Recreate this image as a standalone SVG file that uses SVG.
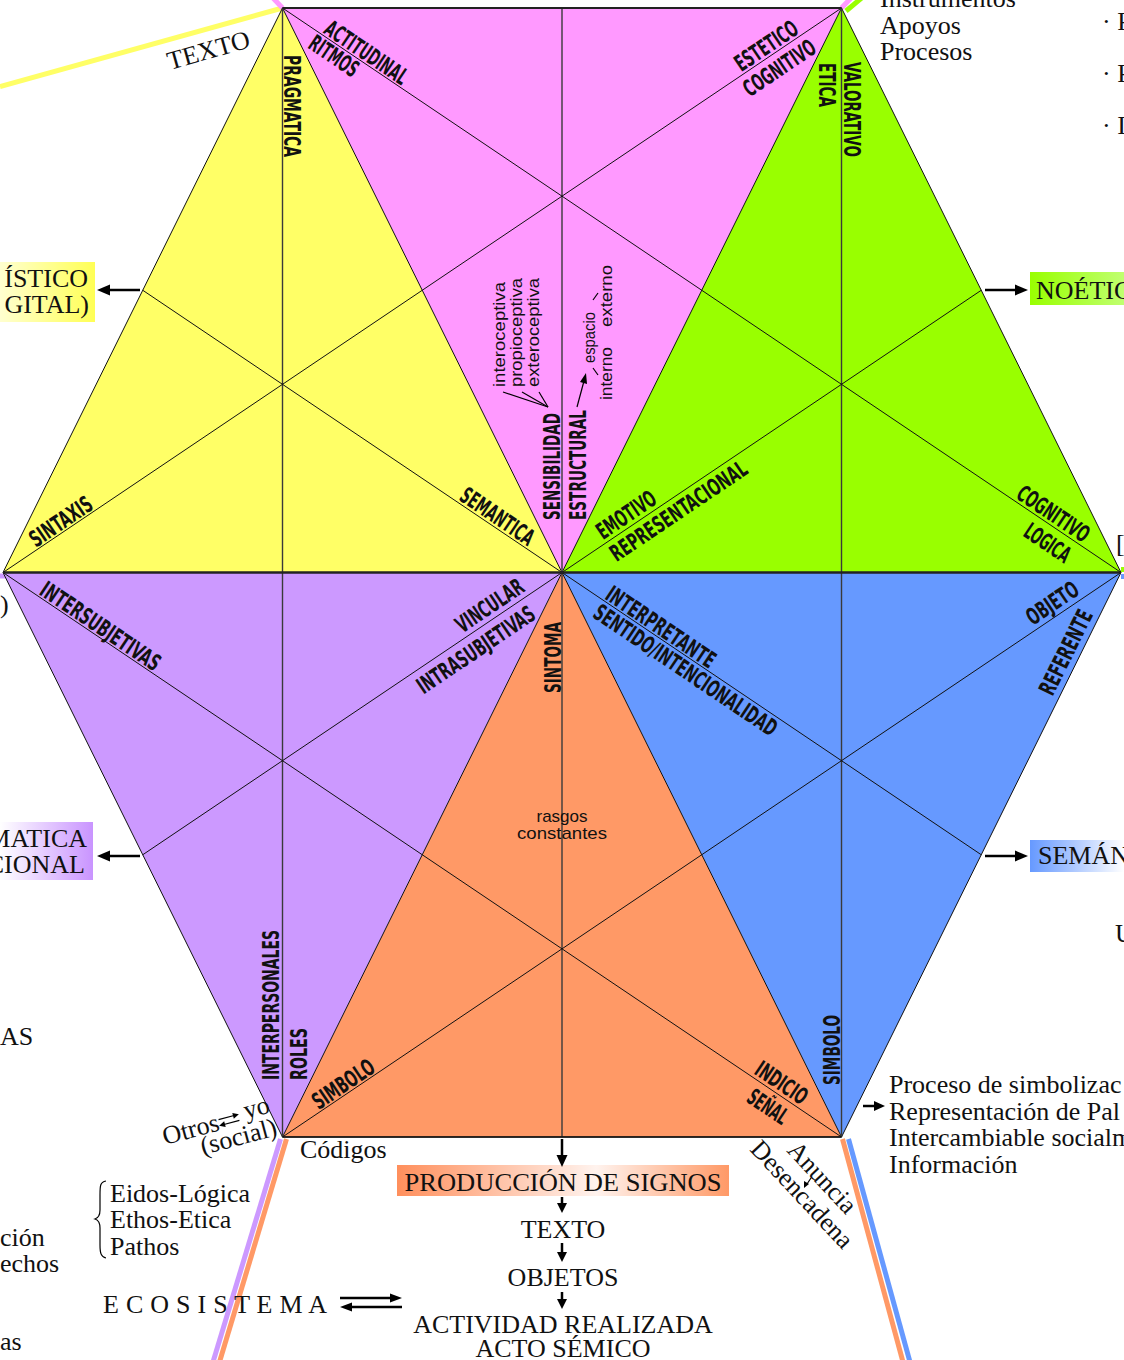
<svg xmlns="http://www.w3.org/2000/svg" width="1124" height="1360" viewBox="0 0 1124 1360">
<defs>
<style>
.lb{font-family:"DejaVu Sans Condensed","DejaVu Sans",sans-serif;font-weight:bold;font-size:23px;fill:#111}
.sr{font-family:"Liberation Serif","Times New Roman",serif;font-size:26px;fill:#111}
.ss{font-family:"Liberation Sans",Arial,sans-serif;font-size:17px;fill:#111}
.gl{stroke:#111;stroke-width:1;fill:none}
.vl{stroke:#3a3a3a;stroke-width:1.4;fill:none}
.ar{stroke:#000;stroke-width:2.5;fill:none}
.ah{fill:#000}
.thin{stroke:#000;stroke-width:1.2;fill:none}
</style>
<linearGradient id="gy" x1="0" y1="0" x2="1" y2="0"><stop offset="0" stop-color="#ffffd0"/><stop offset="1" stop-color="#ffff55"/></linearGradient>
<linearGradient id="gp" x1="0" y1="0" x2="1" y2="0"><stop offset="0" stop-color="#ffffff"/><stop offset="1" stop-color="#c994ff"/></linearGradient>
<linearGradient id="gg" x1="0" y1="0" x2="1" y2="0"><stop offset="0" stop-color="#99ff00"/><stop offset="1" stop-color="#c0ff70"/></linearGradient>
<linearGradient id="gb" x1="0" y1="0" x2="1" y2="0"><stop offset="0" stop-color="#6699ff"/><stop offset="1" stop-color="#ffffff"/></linearGradient>
<linearGradient id="go" x1="0" y1="0" x2="1" y2="0"><stop offset="0" stop-color="#ff8f5c"/><stop offset="0.6" stop-color="#fff3ee"/><stop offset="1" stop-color="#ff9966"/></linearGradient>
</defs>

<g id="stripes" stroke-width="5" fill="none">
<line x1="282.5" y1="8" x2="0" y2="86.5" stroke="#ffff66"/>
<line x1="282.5" y1="8" x2="273" y2="-2" stroke="#ff99ff"/>
<line x1="841.5" y1="8" x2="851" y2="-2" stroke="#ff99ff"/>
<line x1="846" y1="11" x2="864" y2="-4" stroke="#99ff00"/>
<line x1="280.5" y1="1139" x2="213" y2="1362" stroke="#cc99ff"/>
<line x1="286.5" y1="1139" x2="219.5" y2="1362" stroke="#ff9966"/>
<line x1="842.5" y1="1139" x2="903" y2="1362" stroke="#ff9966"/>
<line x1="848.5" y1="1139" x2="910" y2="1362" stroke="#6699ff"/>
<line x1="1121" y1="569.5" x2="1124" y2="569.5" stroke="#99ff00"/>
<line x1="1121" y1="576.5" x2="1124" y2="576.5" stroke="#6699ff"/>
<line x1="0" y1="576" x2="7" y2="576" stroke="#cc99ff"/>
</g>

<g id="tri-yellow"><polygon points="282.5,8 3,572.5 562,572.5" fill="#ffff66"/></g>
<g id="tri-pink"><polygon points="282.5,8 841.5,8 562,572.5" fill="#ff99ff"/></g>
<g id="tri-green"><polygon points="841.5,8 1121,572.5 562,572.5" fill="#99ff00"/></g>
<g id="tri-blue"><polygon points="562,572.5 1121,572.5 841.5,1137" fill="#6699ff"/></g>
<g id="tri-orange"><polygon points="562,572.5 841.5,1137 282.5,1137" fill="#ff9966"/></g>
<g id="tri-purple"><polygon points="3,572.5 562,572.5 282.5,1137" fill="#cc99ff"/></g>

<g id="grid">
<polygon class="gl" points="282.5,8 841.5,8 1121,572.5 841.5,1137 282.5,1137 3,572.5"/>
<line class="gl" x1="282.5" y1="8" x2="562" y2="572.5"/>
<line class="gl" x1="841.5" y1="8" x2="562" y2="572.5"/>
<line class="gl" x1="282.5" y1="1137" x2="562" y2="572.5"/>
<line class="gl" x1="841.5" y1="1137" x2="562" y2="572.5"/>
<line class="vl" x1="282.5" y1="8" x2="282.5" y2="1137"/>
<line class="vl" x1="562" y1="8" x2="562" y2="1137"/>
<line class="vl" x1="841.5" y1="8" x2="841.5" y2="1137"/>
<line class="gl" x1="3" y1="572.5" x2="841.5" y2="8"/>
<line class="gl" x1="282.5" y1="8" x2="1121" y2="572.5"/>
<line class="gl" x1="3" y1="572.5" x2="841.5" y2="1137"/>
<line class="gl" x1="282.5" y1="1137" x2="1121" y2="572.5"/>
<line class="gl" x1="142.75" y1="290.25" x2="981.25" y2="854.75"/>
<line class="gl" x1="981.25" y1="290.25" x2="142.75" y2="854.75"/>
<line x1="282.5" y1="8" x2="841.5" y2="8" stroke="#222" stroke-width="2"/>
<line x1="3" y1="572.5" x2="1121" y2="572.5" stroke="#222" stroke-width="2.5"/>
<line x1="282.5" y1="1137" x2="841.5" y2="1137" stroke="#111" stroke-width="1.5"/>
</g>

<g id="labels-yellow">
<text class="lb" transform="translate(284,55) rotate(90)" textLength="102" lengthAdjust="spacingAndGlyphs">PRAGMATICA</text>
<text class="lb" transform="translate(3,572.5) rotate(-33.96)" x="41" y="-2" textLength="71" lengthAdjust="spacingAndGlyphs">SINTAXIS</text>
<text class="lb" transform="translate(562,572.5) rotate(33.96)" x="-127" y="-2.5" textLength="84" lengthAdjust="spacingAndGlyphs">SEMANTICA</text>
</g>
<g id="labels-pink">
<text class="lb" transform="translate(282.5,8) rotate(33.96)" x="47" y="-2" textLength="95" lengthAdjust="spacingAndGlyphs">ACTITUDINAL</text>
<text class="lb" transform="translate(282.5,8) rotate(33.96)" x="42" y="19" textLength="55" lengthAdjust="spacingAndGlyphs">RITMOS</text>
<text class="lb" transform="translate(841.5,8) rotate(-33.96)" x="-119" y="-2.7" textLength="71" lengthAdjust="spacingAndGlyphs">ESTETICO</text>
<text class="lb" transform="translate(841.5,8) rotate(-33.96)" x="-126" y="23" textLength="82" lengthAdjust="spacingAndGlyphs">COGNITIVO</text>
<text class="lb" transform="translate(560,520) rotate(-90)" textLength="107" lengthAdjust="spacingAndGlyphs">SENSIBILIDAD</text>
<text class="lb" transform="translate(585.5,520) rotate(-90)" textLength="110" lengthAdjust="spacingAndGlyphs">ESTRUCTURAL</text>
<text class="ss" transform="translate(505,387) rotate(-90)" textLength="105" lengthAdjust="spacingAndGlyphs">interoceptiva</text>
<text class="ss" transform="translate(522,387) rotate(-90)" textLength="109" lengthAdjust="spacingAndGlyphs">propioceptiva</text>
<text class="ss" transform="translate(539,387) rotate(-90)" textLength="109" lengthAdjust="spacingAndGlyphs">exteroceptiva</text>
<text class="ss" transform="translate(595,363) rotate(-90)" textLength="51" lengthAdjust="spacingAndGlyphs">espacio</text>
<text class="ss" transform="translate(612,400) rotate(-90)" textLength="53" lengthAdjust="spacingAndGlyphs">interno</text>
<text class="ss" transform="translate(612,327) rotate(-90)" textLength="62" lengthAdjust="spacingAndGlyphs">externo</text>
<line class="thin" x1="503" y1="392" x2="548" y2="407"/>
<line class="thin" x1="522" y1="392" x2="548" y2="407"/>
<line class="thin" x1="539" y1="392" x2="548" y2="407"/>
<line class="thin" x1="593" y1="300" x2="598" y2="293"/>
<line class="thin" x1="593" y1="368" x2="598" y2="375"/>
<line class="thin" x1="577" y1="407" x2="584" y2="381"/>
<polygon class="ah" points="586,373 580,382 587,384"/>
</g>
<g id="labels-green">
<text class="lb" transform="translate(818.5,63) rotate(90)" textLength="44" lengthAdjust="spacingAndGlyphs">ETICA</text>
<text class="lb" transform="translate(844,62) rotate(90)" textLength="95" lengthAdjust="spacingAndGlyphs">VALORATIVO</text>
<text class="lb" transform="translate(562,572.5) rotate(-33.96)" x="52" y="-4" textLength="67" lengthAdjust="spacingAndGlyphs">EMOTIVO</text>
<text class="lb" transform="translate(562,572.5) rotate(-33.96)" x="51" y="22" textLength="160" lengthAdjust="spacingAndGlyphs">REPRESENTACIONAL</text>
<text class="lb" transform="translate(1121,572.5) rotate(33.96)" x="-130" y="-3" textLength="82" lengthAdjust="spacingAndGlyphs">COGNITIVO</text>
<text class="lb" transform="translate(1121,572.5) rotate(33.96)" x="-103" y="24.5" textLength="51" lengthAdjust="spacingAndGlyphs">LOGICA</text>
</g>
<g id="labels-blue">
<text class="lb" transform="translate(562,572.5) rotate(33.96)" x="49" y="-2" textLength="127" lengthAdjust="spacingAndGlyphs">INTERPRETANTE</text>
<text class="lb" transform="translate(562,572.5) rotate(33.96)" x="49" y="20" textLength="216" lengthAdjust="spacingAndGlyphs">SENTIDO/INTENCIONALIDAD</text>
<text class="lb" transform="translate(1121,572.5) rotate(-33.96)" x="-103" y="-5" textLength="58" lengthAdjust="spacingAndGlyphs">OBJETO</text>
<text class="lb" transform="translate(1121,572.5) rotate(-63.66)" x="-142" y="-6" textLength="92" lengthAdjust="spacingAndGlyphs">REFERENTE</text>
<text class="lb" transform="translate(840,1085) rotate(-90)" textLength="70" lengthAdjust="spacingAndGlyphs">SIMBOLO</text>
</g>
<g id="labels-orange">
<text class="lb" transform="translate(561,693) rotate(-90)" textLength="71" lengthAdjust="spacingAndGlyphs">SINTOMA</text>
<text class="lb" transform="translate(282.5,1137) rotate(-33.96)" x="45" y="-2" textLength="70" lengthAdjust="spacingAndGlyphs">SIMBOLO</text>
<text class="lb" transform="translate(841.5,1137) rotate(33.96)" x="-109" y="-3.5" textLength="58" lengthAdjust="spacingAndGlyphs">INDICIO</text>
<text class="lb" transform="translate(841.5,1137) rotate(33.96)" x="-100" y="24" textLength="44" lengthAdjust="spacingAndGlyphs">SEÑAL</text>
<text class="ss" x="562" y="822" text-anchor="middle">rasgos</text>
<text class="ss" x="562" y="839" text-anchor="middle" textLength="90" lengthAdjust="spacingAndGlyphs">constantes</text>
</g>
<g id="labels-purple">
<text class="lb" transform="translate(3,572.5) rotate(33.96)" x="41" y="-2" textLength="140" lengthAdjust="spacingAndGlyphs">INTERSUBJETIVAS</text>
<text class="lb" transform="translate(562,572.5) rotate(-33.96)" x="-117" y="-5" textLength="77" lengthAdjust="spacingAndGlyphs">VINCULAR</text>
<text class="lb" transform="translate(562,572.5) rotate(-33.96)" x="-183" y="24" textLength="137" lengthAdjust="spacingAndGlyphs">INTRASUBJETIVAS</text>
<text class="lb" transform="translate(279,1080) rotate(-90)" textLength="150" lengthAdjust="spacingAndGlyphs">INTERPERSONALES</text>
<text class="lb" transform="translate(307,1080) rotate(-90)" textLength="52" lengthAdjust="spacingAndGlyphs">ROLES</text>
</g>

<g id="box-linguistico">
<rect x="0" y="262" width="95" height="60" fill="url(#gy)"/>
<text class="sr" x="88" y="287" text-anchor="end" font-size="27">ÍSTICO</text>
<text class="sr" x="89" y="313" text-anchor="end" font-size="27">GITAL)</text>
</g>
<g id="box-pragmatica">
<rect x="0" y="822" width="93" height="58" fill="url(#gp)"/>
<text class="sr" x="87" y="847" text-anchor="end" font-size="27">MATICA</text>
<text class="sr" x="85" y="873" text-anchor="end" font-size="27">CIONAL</text>
</g>
<g id="box-noetico">
<rect x="1030" y="272" width="94" height="33" fill="url(#gg)"/>
<text class="sr" x="1036" y="299">NOÉTIC</text>
</g>
<g id="box-semantica">
<rect x="1030" y="840" width="94" height="32" fill="url(#gb)"/>
<text class="sr" x="1038" y="864">SEMÁN</text>
</g>
<g id="box-produccion">
<rect x="397" y="1165" width="332" height="31" fill="url(#go)"/>
<text class="sr" x="563" y="1191" text-anchor="middle" textLength="317" lengthAdjust="spacingAndGlyphs">PRODUCCIÓN DE SIGNOS</text>
</g>

<g id="connectors">
<line class="ar" x1="140" y1="290" x2="108" y2="290"/><polygon class="ah" points="97,290 110,284.5 110,295.5"/>
<line class="ar" x1="140" y1="856" x2="108" y2="856"/><polygon class="ah" points="97,856 110,850.5 110,861.5"/>
<line class="ar" x1="985" y1="290" x2="1017" y2="290"/><polygon class="ah" points="1028,290 1015,284.5 1015,295.5"/>
<line class="ar" x1="985" y1="856" x2="1017" y2="856"/><polygon class="ah" points="1028,856 1015,850.5 1015,861.5"/>
<line class="ar" x1="863" y1="1106" x2="876" y2="1106"/><polygon class="ah" points="885,1106 874,1101 874,1111"/>
<line class="ar" x1="562" y1="1139" x2="562" y2="1157"/><polygon class="ah" points="562,1167 556.5,1155 567.5,1155"/>
<line class="ar" x1="562" y1="1197" x2="562" y2="1205"/><polygon class="ah" points="562,1213 557,1203 567,1203"/>
<line class="ar" x1="562" y1="1243" x2="562" y2="1254"/><polygon class="ah" points="562,1262 557,1252 567,1252"/>
<line class="ar" x1="562" y1="1292" x2="562" y2="1300"/><polygon class="ah" points="562,1309 557,1299 567,1299"/>
<line class="ar" x1="340" y1="1298" x2="392" y2="1298"/><polygon class="ah" points="402,1298 390,1293.5 390,1302.5"/>
<line class="ar" x1="402" y1="1307" x2="350" y2="1307"/><polygon class="ah" points="340,1307 352,1302.5 352,1311.5"/>
<g transform="translate(229,1120) rotate(-15)">
<line class="thin" x1="-10" y1="-3" x2="7" y2="-3"/><polygon class="ah" points="11,-3 5,-6 5,0"/>
<line class="thin" x1="10" y1="3" x2="-7" y2="3"/><polygon class="ah" points="-11,3 -5,0 -5,6"/>
</g>
<line class="thin" x1="811" y1="1178" x2="807" y2="1184"/><polygon class="ah" points="804,1188 804,1181 809,1184"/>
<path class="thin" d="M106,1181 C100,1182 100,1186 100,1195 L100,1210 C100,1216 98,1218 95,1219 C98,1220 100,1222 100,1228 L100,1245 C100,1253 101,1257 106,1258"/>
</g>

<g id="texts">
<text class="sr" transform="translate(170,70) rotate(-15.8)" font-size="25">TEXTO</text>
<text class="sr" x="880" y="7">Instrumentos</text>
<text class="sr" x="880" y="34">Apoyos</text>
<text class="sr" x="880" y="60">Procesos</text>
<text class="sr" x="1102" y="30">· P</text>
<text class="sr" x="1102" y="82">· P</text>
<text class="sr" x="1102" y="134">· I</text>
<text class="sr" x="1116" y="552">[</text>
<text class="sr" x="0" y="613">)</text>
<text class="sr" x="1115" y="942">U</text>
<text class="sr" x="0" y="1045" font-size="24">AS</text>
<text class="sr" x="0" y="1246" font-size="22">ción</text>
<text class="sr" x="0" y="1272" font-size="22">echos</text>
<text class="sr" x="0" y="1350" font-size="22">as</text>
<text class="sr" transform="translate(165,1145) rotate(-15)" font-size="22">Otros</text>
<text class="sr" transform="translate(246,1119) rotate(-15)" font-size="22">yo</text>
<text class="sr" transform="translate(203,1155) rotate(-15)" font-size="22">(social)</text>
<text class="sr" x="300" y="1158" font-size="24">Códigos</text>
<text class="sr" transform="translate(786,1151) rotate(47)" font-size="21">Anuncia</text>
<text class="sr" transform="translate(749,1150) rotate(47)" font-size="20">Desencadena</text>
<text class="sr" x="110" y="1202">Eidos-Lógica</text>
<text class="sr" x="110" y="1228">Ethos-Etica</text>
<text class="sr" x="110" y="1255">Pathos</text>
<text class="sr" x="103" y="1313" textLength="224" lengthAdjust="spacing">E C O S I S T E M A</text>
<text class="sr" x="563" y="1238" text-anchor="middle">TEXTO</text>
<text class="sr" x="563" y="1286" text-anchor="middle">OBJETOS</text>
<text class="sr" x="563" y="1333" text-anchor="middle">ACTIVIDAD REALIZADA</text>
<text class="sr" x="563" y="1357" text-anchor="middle">ACTO SÉMICO</text>
<text class="sr" x="889" y="1093">Proceso de simbolizac</text>
<text class="sr" x="889" y="1120">Representación de Pal</text>
<text class="sr" x="889" y="1146">Intercambiable socialm</text>
<text class="sr" x="889" y="1173">Información</text>
</g>
</svg>
